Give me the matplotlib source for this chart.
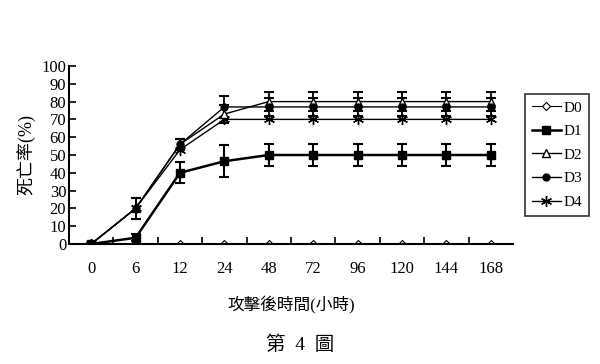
import matplotlib
matplotlib.use("Agg")
import matplotlib.pyplot as plt
from matplotlib.lines import Line2D
import numpy as np

plt.rcParams['font.family'] = ['Liberation Serif', 'Noto Sans CJK TC']

# data
hours = ['0', '6', '12', '24', '48', '72', '96', '120', '144', '168']
d0 = [0, 0, 0, 0, 0, 0, 0, 0, 0, 0]
d1 = [0, 3.5, 40, 46.5, 50, 50, 50, 50, 50, 50]
d1_err = [0, 2, 6, 9, 6, 6, 6, 6, 6, 6]
d2 = [0, 20, 56, 73, 80, 80, 80, 80, 80, 80]
d2_err = [0, 6, 3, 5, 5.5, 5.5, 5.5, 5.5, 5.5, 5.5]
d3 = [0, 20, 56, 77, 77, 77, 77, 77, 77, 77]
d3_err = [0, 6, 3, 6, 5, 5, 5, 5, 5, 5]
d4 = [0, 20, 53, 70, 70, 70, 70, 70, 70, 70]

x = np.arange(len(hours))
star = (6, 2, 0)

fig = plt.figure(figsize=(6, 3.64), dpi=100)
ax = fig.add_axes([0.115, 0.3297, 0.74, 0.489])

ax.plot(x, d0, color='black', lw=0.8, marker='D', ms=4, mfc='white', mec='black', mew=0.8)
ax.errorbar(x, d1, yerr=d1_err, color='black', lw=1.8, marker='s', ms=6, capsize=3.5, elinewidth=1.5, capthick=1.5)
ax.errorbar(x, d2, yerr=d2_err, color='black', lw=1.0, marker='^', ms=6, mfc='white', capsize=3.5, elinewidth=1.3, capthick=1.5)
ax.errorbar(x, d3, yerr=d3_err, color='black', lw=1.0, marker='o', ms=5, capsize=3.5, elinewidth=1.3, capthick=1.5)
ax.plot(x, d4, color='black', lw=1.0, marker=star, ms=8, mew=1.0)

ax.set_xlim(-0.5, len(hours) - 0.5)
ax.set_ylim(0, 100)
ax.set_yticks(np.arange(0, 101, 10))
ax.set_xticks(x)
ax.set_xticklabels(hours)
ax.set_xticks(x[:-1] + 0.5, minor=True)
ax.tick_params(axis='x', which='major', length=0, pad=12, labelsize=12)
ax.tick_params(axis='x', which='minor', direction='in', length=5, width=1.2)
ax.tick_params(axis='y', direction='in', length=5, width=1.2, labelsize=12, pad=2)
for s in ['top', 'right']:
    ax.spines[s].set_visible(False)
for s in ['left', 'bottom']:
    ax.spines[s].set_linewidth(1.5)

ax.set_ylabel('死亡率(%)', fontsize=13, labelpad=4)
ax.set_xlabel('攻擊後時間(小時)', fontsize=12, labelpad=14)

handles = [
    Line2D([], [], color='black', lw=0.8, marker='D', ms=4, mfc='white', mew=0.8),
    Line2D([], [], color='black', lw=1.8, marker='s', ms=6),
    Line2D([], [], color='black', lw=1.0, marker='^', ms=6, mfc='white'),
    Line2D([], [], color='black', lw=1.0, marker='o', ms=5),
    Line2D([], [], color='black', lw=1.0, marker=star, ms=8),
]
leg = ax.legend(handles, ['D0', 'D1', 'D2', 'D3', 'D4'], loc='upper left',
                bbox_to_anchor=(525 / 600, 1 - 94 / 364), bbox_transform=fig.transFigure,
                frameon=True, fancybox=False, edgecolor='black', fontsize=11, handlelength=1.9,
                handletextpad=0.2, borderpad=0.45, labelspacing=0.65, borderaxespad=0)
leg.get_frame().set_linewidth(1.2)

fig.text(0.5, 1 - 345 / 364, '第  4  圖', ha='center', va='center', fontsize=14)

fig.savefig('out.png', dpi=100)
